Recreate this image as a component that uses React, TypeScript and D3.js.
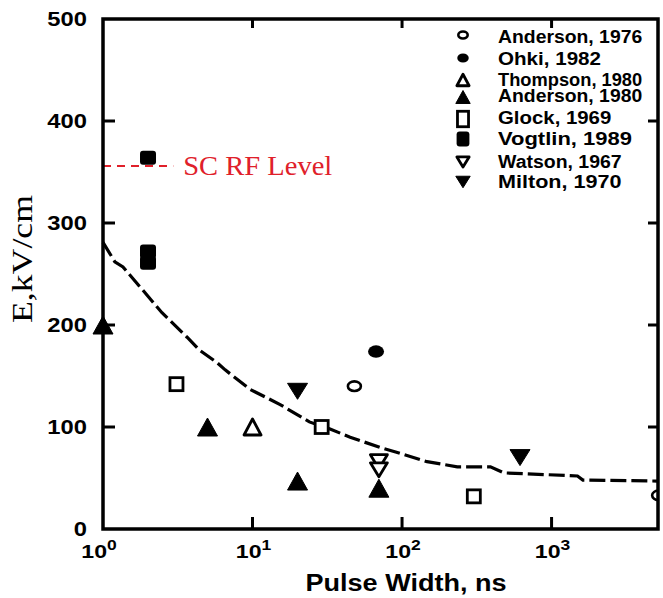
import React from "react";
import * as d3 from "d3";

const X_MIN = 1;
const X_MAX = 5150;
const Y_MIN = 0;
const Y_MAX = 500;
const yTicks = [0, 100, 200, 300, 400, 500];
const xTickExps = [0, 1, 2, 3];

// dashed fit curve (pulse width ns, E kV/cm)
const curveX = [1, 1.2, 1.36, 1.85, 2.48, 3.65, 4.45, 5.8, 6.56, 9.6, 15.3, 24, 33, 45, 71, 93, 147, 234, 390, 480, 1490, 1620, 5150];
const curveY = [281, 262, 257, 234, 212, 188, 175, 163, 156, 137, 122, 105, 98, 90, 80, 75, 66, 61, 61, 55, 52, 48, 47];

const scLevel = 356;
const scX = [1, 2.95];
const scLabel = "SC RF Level";

const seriesNames = ["Anderson, 1976", "Ohki, 1982", "Thompson, 1980", "Anderson, 1980", "Glock, 1969", "Vogtlin, 1989", "Watson, 1967", "Milton, 1970"];
const seriesSymbols = ["openCircle", "filledCircle", "openTri", "filledTri", "openSquare", "filledSquare", "openDown", "filledDown"];

const anderson1976X = [48, 5200];
const anderson1976Y = [140, 33];
const ohkiX = [67];
const ohkiY = [174];
const thompsonX = [10];
const thompsonY = [100];
const anderson1980X = [1, 5, 20, 70];
const anderson1980Y = [200, 100, 47, 40];
const glockX = [3.1, 29, 302];
const glockY = [142, 100, 32];
const vogtlinX = [2, 2, 2];
const vogtlinY = [364, 272, 261];
const watsonX = [70, 70];
const watsonY = [66, 58];
const miltonX = [20, 615];
const miltonY = [135, 70];

const seriesX = [anderson1976X, ohkiX, thompsonX, anderson1980X, glockX, vogtlinX, watsonX, miltonX];
const seriesY = [anderson1976Y, ohkiY, thompsonY, anderson1980Y, glockY, vogtlinY, watsonY, miltonY];

const L = 103, R = 658, T = 19, B = 529;

function Marker({ type, cx, cy, s, sy = 1 }: { type: string; cx: number; cy: number; s: number; sy?: number }) {
  const k = "#000";
  switch (type) {
    case "openCircle":
      return <ellipse cx={cx} cy={cy} rx={6.5 * s} ry={4.8 * s} fill="#fff" stroke={k} strokeWidth={2.6} />;
    case "filledCircle":
      return <ellipse cx={cx} cy={cy} rx={8 * s} ry={6.2 * s} fill={k} />;
    case "openTri": {
      const w = 8.5 * s, h = 8 * s;
      return <path d={`M${cx},${cy - h} L${cx + w},${cy + h} L${cx - w},${cy + h} Z`} fill="#fff" stroke={k} strokeWidth={2.8} strokeLinejoin="round" />;
    }
    case "filledTri": {
      const w = 10 * s, h = 9 * s;
      return <path d={`M${cx},${cy - h} L${cx + w},${cy + h} L${cx - w},${cy + h} Z`} fill={k} stroke={k} strokeWidth={1} strokeLinejoin="round" />;
    }
    case "openSquare":
      return <rect x={cx - 6.5 * s} y={cy - 6.5 * s * sy} width={13 * s} height={13 * s * sy} fill="#fff" stroke={k} strokeWidth={2.8} />;
    case "filledSquare":
      return <rect x={cx - 8 * s} y={cy - 7 * s * sy} width={16 * s} height={14 * s * sy} rx={3} fill={k} />;
    case "openDown": {
      const w = 8.5 * s, h = 7 * s;
      return <path d={`M${cx - w},${cy - h} L${cx + w},${cy - h} L${cx},${cy + h} Z`} fill="#fff" stroke={k} strokeWidth={2.8} strokeLinejoin="round" />;
    }
    case "filledDown": {
      const w = 10 * s, h = 8 * s;
      return <path d={`M${cx - w},${cy - h} L${cx + w},${cy - h} L${cx},${cy + h} Z`} fill={k} stroke={k} strokeWidth={1} strokeLinejoin="round" />;
    }
  }
  return null;
}

const legendSymbolY = [35, 58, 80, 97, 119, 139, 162, 182];
const legendTextY = [43, 65, 86, 102, 124, 145, 168, 188];

export default function App() {
  const x = d3.scaleLog().domain([X_MIN, X_MAX]).range([L, R]);
  const y = d3.scaleLinear().domain([Y_MIN, Y_MAX]).range([B, T]);
  const curvePts: [number, number][] = curveX.map((v, i) => [x(v), y(curveY[i])]);
  const line = d3.line();
  const arial = "'Liberation Sans', Arial, sans-serif";
  const times = "'Liberation Serif', 'Times New Roman', serif";
  return (
    <svg width={663} height={598} style={{ position: "absolute", left: 0, top: 0, background: "#fff" }}>
      <defs>
        <clipPath id="plotclip">
          <rect x={80} y={0} width={R - 80} height={598} />
        </clipPath>
      </defs>
      {/* fit curve */}
      <path d={line(curvePts) || ""} fill="none" stroke="#000" strokeWidth={3.2} strokeDasharray="16,5" />
      {/* SC RF level */}
      <line x1={x(scX[0])} x2={x(scX[1])} y1={y(scLevel)} y2={y(scLevel)} stroke="#e0202a" strokeWidth={2} strokeDasharray="8,6" />
      <text x={x(scX[1]) + 10} y={y(scLevel) + 9} fontFamily={times} fontSize={27} fill="#e0202a" textLength={149} lengthAdjust="spacingAndGlyphs">{scLabel}</text>
      {/* markers */}
      <g clipPath="url(#plotclip)">
        {seriesX.map((xs, si) =>
          xs.map((xv, i) => <Marker key={`${si}-${i}`} type={seriesSymbols[si]} cx={x(xv)} cy={y(seriesY[si][i])} s={1} />)
        )}
      </g>
      {/* frame */}
      <rect x={L} y={T} width={R - L} height={B - T} fill="none" stroke="#000" strokeWidth={3.5} />
      {/* y ticks */}
      {yTicks.map((t) => (
        <g key={t}>
          {t > 0 && t < 500 && <line x1={L} x2={L + 12} y1={y(t)} y2={y(t)} stroke="#000" strokeWidth={3} />}
          {t > 0 && t < 500 && <line x1={R} x2={R - 10} y1={y(t)} y2={y(t)} stroke="#000" strokeWidth={3} />}
          <g transform={`translate(87,${y(t)}) scale(1.22,1)`}>
            <text x={0} y={0} textAnchor="end" dominantBaseline="central" fontFamily={arial} fontWeight="bold" fontSize={19.5}>{t}</text>
          </g>
        </g>
      ))}
      {/* x ticks */}
      {xTickExps.map((e) => {
        const px = x(Math.pow(10, e));
        return (
          <g key={e}>
            {e > 0 && <line x1={px} x2={px} y1={B} y2={B - 12} stroke="#000" strokeWidth={3} />}
            {e > 0 && <line x1={px} x2={px} y1={T} y2={T + 9} stroke="#000" strokeWidth={3} />}
            <g transform={`translate(${e === 0 ? px - 4 : px + 1},558) scale(1.25,1)`}>
              <text x={0} y={0} textAnchor="middle" fontFamily={arial} fontWeight="bold" fontSize={18.5}>
                10<tspan fontSize={14} dy={-8}>{e}</tspan>
              </text>
            </g>
          </g>
        );
      })}
      {/* axis titles */}
      <text x={406} y={591} textAnchor="middle" fontFamily={arial} fontWeight="bold" fontSize={23.5} textLength={201} lengthAdjust="spacingAndGlyphs">Pulse Width, ns</text>
      <text transform="translate(32,259) rotate(-90)" textAnchor="middle" fontFamily={times} fontSize={29} textLength={128} lengthAdjust="spacingAndGlyphs">E,kV/cm</text>
      {/* legend */}
      {seriesNames.map((n, i) => (
        <g key={n}>
          <Marker type={seriesSymbols[i]} cx={463} cy={legendSymbolY[i]} s={i === 4 ? 0.85 : i === 5 ? 0.8 : 0.72} sy={i === 4 ? 1.4 : i === 5 ? 1.35 : 1} />
          <text x={498} y={legendTextY[i]} fontFamily={arial} fontWeight="bold" fontSize={i === 2 ? 17.5 : 18} textLength={n.length * 10.3} lengthAdjust="spacingAndGlyphs">{n}</text>
        </g>
      ))}
    </svg>
  );
}
